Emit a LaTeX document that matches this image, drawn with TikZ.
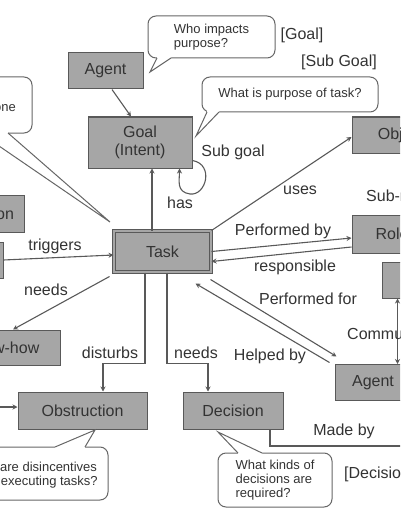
\documentclass[tikz,border=0pt]{standalone}
\usepackage{fontspec}
\setmainfont{Liberation Sans}
\usetikzlibrary{arrows.meta,calc}
\begin{document}
\begin{tikzpicture}[x=1pt,y=-1pt,
  every node/.style={text=black!80},
  box/.style={draw=black!65, fill=black!35, line width=1pt, inner sep=0pt, align=center, font=\fontsize{16}{18}\selectfont},
  bub/.style={draw=black!60, fill=white, line width=1pt, rounded corners=8pt, inner sep=0pt, align=left, font=\fontsize{13}{14}\selectfont},
  btext/.style={font=\fontsize{13}{14}\selectfont, align=left, inner sep=0pt},
  lbl/.style={font=\fontsize{16}{18}\selectfont, inner sep=0pt},
  arr/.style={draw=black!65, line width=1.1pt, -{Stealth[length=5pt,width=5pt]}},
  darr/.style={draw=black!65, line width=1.1pt, {Stealth[length=5pt,width=5pt]}-{Stealth[length=5pt,width=5pt]}},
  ln/.style={draw=black!65, line width=1.1pt},
  tail/.style={draw=black!60, line width=1pt},
]
\useasboundingbox (0,0) rectangle (400,516);
\clip (0,0) rectangle (400,516);

% boxes
\node[box, minimum width=75, minimum height=36] (agentT) at (105.5,71) {Agent};
\node[box, minimum width=104, minimum height=51] (goal) at (140,142.5) {Goal\\(Intent)};
\node[box, minimum width=98, minimum height=36] (obj) at (401,135) {Object};
\node[box, minimum width=100, minimum height=37] (info) at (-26,213.5) {Information};
\node[box, minimum width=100, minimum height=36] (event) at (-47,260) {Event};
\node[box, minimum width=116, minimum height=35] (know) at (2,347.5) {Know-how};
\node[box, double=black!35, double distance=1.6pt, minimum width=97, minimum height=41] (task) at (162.5,251.5) {Task};
\node[box, minimum width=80, minimum height=38] (role) at (392,234) {Role};
\node[box, minimum width=96, minimum height=36] (subrole) at (430,280) {};
\node[box, minimum width=76, minimum height=36] (agentR) at (373,382.5) {Agent};
\node[box, minimum width=129, minimum height=37] (obst) at (82.5,410.5) {Obstruction};
\node[box, minimum width=100, minimum height=37] (dec) at (233,410.5) {Decision};

% bubbles
\node[bub, minimum width=127, minimum height=42] (b1) at (211.5,37) {Who impacts\\purpose?};
\node[bub, minimum width=176, minimum height=35] (b2) at (290,94.5) {What is purpose of task?};
\node[bub, minimum width=112, minimum height=56] (b3) at (-24,105) {};
\node[btext, anchor=east] (b3t) at (16,107) {When is it done};
\node[bub, minimum width=114, minimum height=54] (b4) at (275,480) {What kinds of\\decisions are\\required?};
\node[bub, minimum width=178, minimum height=53] (b5) at (19,473.5) {};
\node[btext, anchor=west] (b5t) at (-34,475) {What are disincentives\\when executing tasks?};

% tails
\fill[white] (157,55) -- (157,58) -- (150,72) -- (171,58) -- (171,55) -- cycle;
\draw[tail] (157,58) -- (150,72) -- (171,58);
\fill[white] (207,109) -- (207,112) -- (196,136) -- (219,112) -- (219,109) -- cycle;
\draw[tail] (207,112) -- (196,136) -- (219,112);
\fill[white] (-20,130) -- (-20,133) -- (110,222) -- (8,133) -- (8,130) -- cycle;
\draw[tail] (-20,133) -- (110,222) -- (8,133);
\fill[white] (238,456) -- (238,453) -- (218,432) -- (262,453) -- (262,456) -- cycle;
\draw[tail] (238,453) -- (218,432) -- (262,453);
\fill[white] (55,450) -- (55,447) -- (95,430) -- (85,447) -- (85,450) -- cycle;
\draw[tail] (55,447) -- (95,430) -- (85,447);

% connectors
\draw[arr] ([xshift=6.5]agentT.south) -- ([xshift=-9]goal.north);
\draw[arr] ([xshift=-10.5]task.north) -- ([xshift=12]goal.south);
\draw[arr] ([yshift=8]goal.south east) .. controls +(22,4) and +(16,2) .. (190,194) .. controls +(-14,-2) and +(0,12) .. ([xshift=-13]goal.south east);
\draw[arr] (task.north east) -- ([yshift=-2]obj.west);
\draw[arr] (event.east) -- ([yshift=-3.5]task.west);
\draw[arr] ([xshift=-4,yshift=-4]task.south west) -- ([xshift=11]know.north);
\draw[arr] (task.east) -- ([yshift=-4]role.west);
\draw[arr] ([yshift=-13]role.west) -- ([yshift=-10]task.east);
\draw[arr] ([xshift=-1,yshift=-7]task.south east) -- ([xshift=2,yshift=7.5]agentR.north west);
\draw[arr] ([xshift=-5,yshift=1.5]agentR.north west) -- ([xshift=-16,yshift=-11]task.south east);
\coordinate (cc) at ([xshift=16]subrole.south west);
\draw[darr] (cc) -- (cc |- agentR.north);
\draw[arr] ([xshift=-17.5]task.south) -- ++(0,91) -| ([xshift=20.5]obst.north);
\draw[arr] ([xshift=4.5]task.south) -- ++(0,91) -| ([xshift=-25]dec.north);
\coordinate (madeEnd) at (404,446);
\draw[ln] ([xshift=37]dec.south) |- (madeEnd);
\coordinate (obsIn) at (-4,407);
\draw[arr] (obsIn) -- ([yshift=3.5]obst.west);

% labels
\node[lbl] (l1) at (55,246) {triggers};
\node[lbl] (l2) at (46,290) {needs};
\node[lbl] (l3) at (180,203) {has};
\node[lbl] (l4) at (233,152) {Sub goal};
\node[lbl] (l5) at (300,190) {uses};
\node[lbl] (l6) at (283,231) {Performed by};
\node[lbl] (l7) at (295,267) {responsible};
\node[lbl] (l8) at (308,299) {Performed for};
\node[lbl] (l9) at (270,356) {Helped by};
\node[lbl] (l10) at (110,353) {disturbs};
\node[lbl] (l11) at (196,353) {needs};
\node[lbl] (l12) at (344,431) {Made by};
\node[lbl] (l13) at (302,35) {[Goal]};
\node[lbl] (l14) at (339,62) {[Sub Goal]};
\node[lbl, anchor=west] (l15) at (344,474) {[Decision]};
\node[lbl, anchor=west] (l16) at (366,196) {Sub-role};
\node[lbl, anchor=west] (l17) at (347,334) {Communication};
\end{tikzpicture}
\end{document}
